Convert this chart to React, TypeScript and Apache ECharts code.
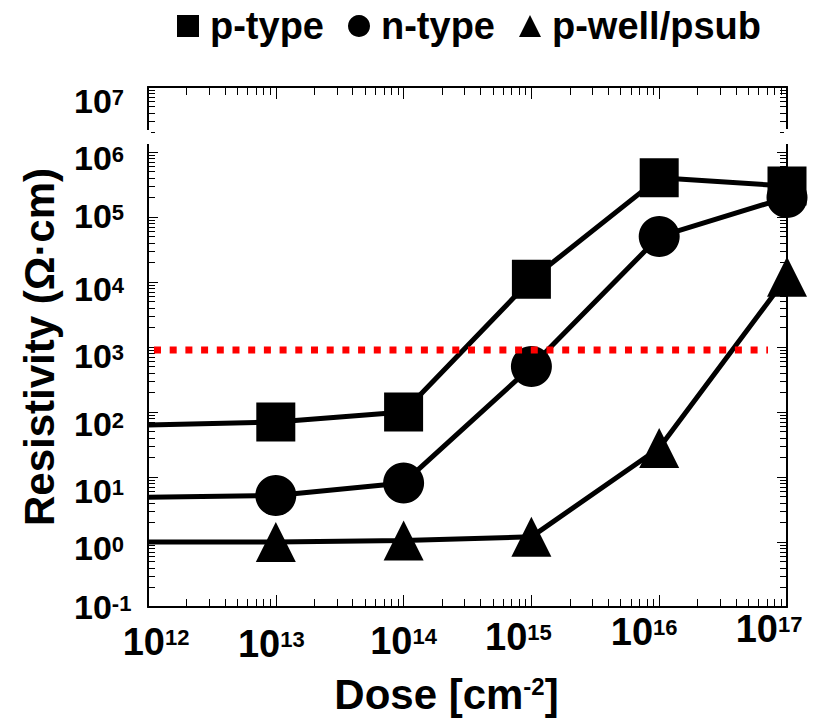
import React, { useEffect, useRef } from "react";
import * as echarts from "echarts";

// ---- data ----
const doseExponents = [12, 13, 14, 15, 16, 17];
const resistivityExponents = [-1, 0, 1, 2, 3, 4, 5, 6, 7];
const dose = [1e12, 1e13, 1e14, 1e15, 1e16, 1e17];
const pType = [63, 70, 100, 11000, 400000, 300000];
const nType = [4.9, 5.2, 8.1, 500, 50000, 200000];
const pWell = [1.0, 1.0, 1.05, 1.2, 28, 12000];
const thresholdDose = [1.114e12, 7.1e16];
const thresholdResistivity = [900, 900];
const seriesNames = ["p-type", "n-type", "p-well/psub"];

// ---- label placement tweaks (style only) ----
const xLabelShift = [
  [8, 13],
  [-4.5, 15],
  [0, 12],
  [-13, 8],
  [-15, 3],
  [-18, 0],
];
const yLabelShift = [0.5, 3.5, 7.5, 6.5, 5, 4, -3.5, 3.5, 7.5];

const FONT = "'Liberation Sans', Arial, Helvetica, sans-serif";

function buildXRich() {
  const rich: Record<string, any> = {};
  xLabelShift.forEach(([dx, dy], i) => {
    rich["b" + i] = {
      fontSize: 38,
      fontWeight: "bold",
      fontFamily: FONT,
      color: "#000",
      lineHeight: 40,
      verticalAlign: "top",
      padding: [dy, 0, 0, dx > 0 ? 2 * dx : 0],
    };
    rich["s" + i] = {
      fontSize: 22,
      fontWeight: "bold",
      fontFamily: FONT,
      color: "#000",
      lineHeight: 22,
      verticalAlign: "top",
      padding: [dy + 3, dx < 0 ? -2 * dx : 0, 0, 0],
    };
  });
  return rich;
}

function buildYRich() {
  const rich: Record<string, any> = {};
  yLabelShift.forEach((d, i) => {
    rich["b" + i] = {
      fontSize: 34,
      fontWeight: "bold",
      fontFamily: FONT,
      color: "#000",
      lineHeight: 36,
      verticalAlign: "top",
      padding: [Math.max(2 * d, 0), 0, Math.max(-2 * d, 0), 0],
    };
    rich["s" + i] = {
      fontSize: 22,
      fontWeight: "bold",
      fontFamily: FONT,
      color: "#000",
      lineHeight: 22,
      verticalAlign: "top",
      padding: [Math.max(2 * d, 0) + 2, 0, 0, 0],
    };
  });
  return rich;
}

const toPairs = (ys: number[]) =>
  dose.map((x, i) =>
    i === 0 ? { value: [x, ys[i]], symbol: "none" } : { value: [x, ys[i]] }
  );

export default function App() {
  const ref = useRef<HTMLDivElement>(null);

  useEffect(() => {
    if (!ref.current) return;
    const chart = echarts.init(ref.current, undefined, { renderer: "svg" });

    const axisCommon = {
      axisLine: { show: true, onZero: false, lineStyle: { color: "#000", width: 2 } },
      splitLine: { show: false },
      minorSplitLine: { show: false },
    };

    const xCommon = {
      ...axisCommon,
      type: "log",
      logBase: 10,
      min: dose[0],
      max: dose[dose.length - 1],
      splitNumber: doseExponents.length - 1,
      axisTick: { show: true, inside: true, length: 12, lineStyle: { color: "#000", width: 1 } },
      minorTick: { show: true, splitNumber: 9, length: 8, lineStyle: { color: "#000", width: 1 } },
    };
    const yCommon = {
      ...axisCommon,
      type: "log",
      logBase: 10,
      min: Math.pow(10, resistivityExponents[0]),
      max: Math.pow(10, resistivityExponents[resistivityExponents.length - 1]),
      splitNumber: resistivityExponents.length - 1,
      axisTick: { show: true, inside: true, length: 10, lineStyle: { color: "#000", width: 1 } },
      minorTick: { show: true, splitNumber: 9, length: 7, lineStyle: { color: "#000", width: 1 } },
    };

    const markerSeries = (name: string, ys: number[], symbol: string, size: number) => ({
      name,
      type: "line",
      data: toPairs(ys),
      symbol,
      symbolSize: size,
      showSymbol: true,
      showAllSymbol: true,
      clip: false,
      lineStyle: { color: "#000", width: 5 },
      itemStyle: { color: "#000" },
      z: 3,
    });

    chart.setOption({
      animation: false,
      backgroundColor: "#fff",
      grid: {
        left: 148,
        top: 87,
        width: 639,
        height: 520,
        containLabel: false,
        outerBoundsMode: "none",
      },
      legend: {
        data: [
          { name: seriesNames[0], icon: "rect" },
          { name: seriesNames[1], icon: "circle" },
          { name: seriesNames[2], icon: "triangle" },
        ],
        left: 172,
        top: 2,
        itemWidth: 22,
        itemHeight: 22,
        itemGap: 24,
        selectedMode: false,
        itemStyle: { color: "#000" },
        textStyle: {
          fontSize: 38,
          fontWeight: "bold",
          fontFamily: FONT,
          color: "#000",
          padding: [0, 0, 0, 6],
        },
      },
      xAxis: [
        {
          ...xCommon,
          position: "bottom",
          name: "{t|Dose [cm}{s|-2}{t|]}",
          nameLocation: "middle",
          nameGap: 66,
          nameTextStyle: {
            padding: [0, 42, 0, 0],
            rich: {
              t: { fontSize: 42, fontWeight: "bold", fontFamily: FONT, color: "#000", lineHeight: 40, verticalAlign: "top" },
              s: { fontSize: 24, fontWeight: "bold", fontFamily: FONT, color: "#000", lineHeight: 24, verticalAlign: "top", padding: [1, 0, 0, 0] },
            },
          },
          axisLabel: {
            show: true,
            margin: 3,
            showMinLabel: true,
            showMaxLabel: true,
            formatter: (v: number) => {
              const e = Math.round(Math.log10(v));
              const i = doseExponents.indexOf(e);
              return i < 0 ? "" : `{b${i}|10}{s${i}|${e}}`;
            },
            rich: buildXRich(),
          },
        },
        {
          ...xCommon,
          position: "top",
          axisLabel: { show: false },
        },
      ],
      yAxis: [
        {
          ...yCommon,
          position: "left",
          name: "Resistivity (Ω·cm)",
          nameLocation: "middle",
          nameGap: 88,
          nameTextStyle: { fontSize: 42, fontWeight: "bold", fontFamily: FONT, color: "#000" },
          axisLabel: {
            show: true,
            align: "left",
            margin: 74,
            showMinLabel: true,
            showMaxLabel: true,
            formatter: (v: number) => {
              const e = Math.round(Math.log10(v));
              const i = resistivityExponents.indexOf(e);
              return i < 0 ? "" : `{b${i}|10}{s${i}|${e}}`;
            },
            rich: buildYRich(),
          },
        },
        {
          ...yCommon,
          position: "right",
          axisLabel: { show: false },
        },
      ],
      series: [
        markerSeries(seriesNames[0], pType, "rect", 39),
        markerSeries(seriesNames[1], nType, "circle", 41),
        markerSeries(seriesNames[2], pWell, "triangle", 40),
        {
          name: "threshold",
          type: "line",
          data: thresholdDose.map((x, i) => [x, thresholdResistivity[i]]),
          symbol: "none",
          lineStyle: { color: "#ff0000", width: 7, type: [7, 8.7], cap: "butt" },
          z: 5,
          silent: true,
        },
      ],
      graphic: [
        { type: "rect", shape: { x: 146, y: 130, width: 5, height: 14 }, style: { fill: "#fff" }, z: 100 },
        { type: "rect", shape: { x: 784, y: 129, width: 6, height: 15 }, style: { fill: "#fff" }, z: 100 },
      ],
    });

    return () => chart.dispose();
  }, []);

  return (
    <div
      ref={ref}
      style={{ position: "fixed", left: 0, top: 0, width: 815, height: 718, background: "#fff" }}
    />
  );
}
